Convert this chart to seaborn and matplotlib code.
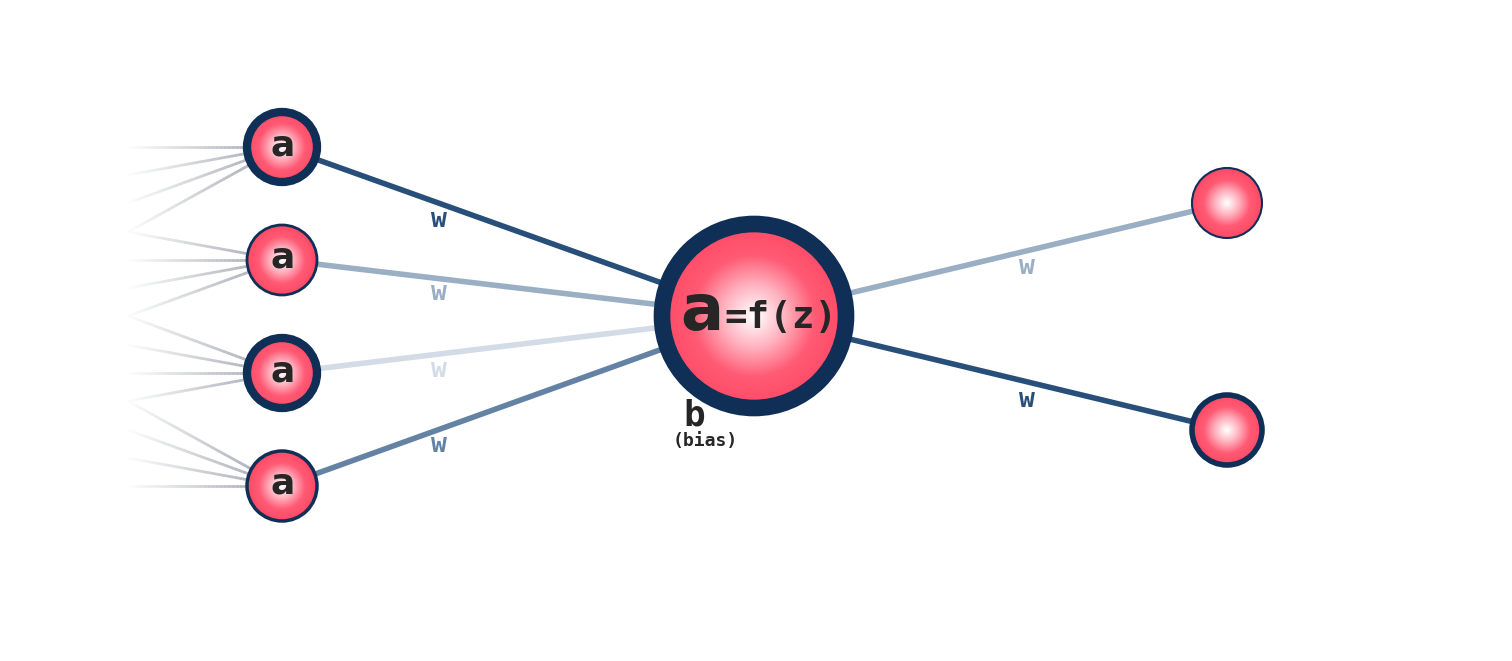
import numpy as np
import matplotlib
matplotlib.use('Agg')
import matplotlib.pyplot as plt
from matplotlib.patches import Circle
from matplotlib.collections import LineCollection
from matplotlib.colors import LinearSegmentedColormap, to_rgba
import seaborn as sns

sns.set_style('white')

# layout in pixel units
input_x = 282
input_y = [147, 260, 373, 486]
input_border = [6, 2, 6, 2.5]
in_weight_colors = ['#284f7a', '#9aaec4', '#d3dce6', '#6482a3']
in_w_label_y = [220, 293, 370, 445]

hidden = (754, 316)
hidden_r = 92

output_x = 1227
output_y = [203, 430]
output_border = [1.5, 4]
out_weight_colors = ['#9aaec4', '#284f7a']
out_w_label_y = [267, 400]

source_x = 128
source_y = [147, 175, 203, 232, 260, 288, 316, 345, 373, 401, 430, 458, 486]
fan_groups = [[0, 1, 2, 3], [3, 4, 5, 6], [6, 7, 8, 9], [9, 10, 11, 12]]

NAVY = '#0f2f57'
grad = LinearSegmentedColormap.from_list('node', ['#ffffff', '#ffb3c0', '#ff5a74', '#ff4a66'])

fig = plt.figure(figsize=(15.12, 6.61), dpi=100)
ax = fig.add_axes([0, 0, 1, 1])
ax.set_xlim(0, 1512)
ax.set_ylim(661, 0)
ax.set_aspect('equal')
ax.axis('off')


def node(cx, cy, r, bw, z=5):
    n = 200
    xs = np.linspace(-1, 1, n)
    X, Y = np.meshgrid(xs, xs)
    D = np.clip(np.sqrt(X ** 2 + Y ** 2), 0, 1)
    im = ax.imshow(D, cmap=grad, extent=(cx - r, cx + r, cy + r, cy - r),
                   origin='upper', zorder=z, interpolation='bilinear')
    clip = Circle((cx, cy), r, transform=ax.transData)
    im.set_clip_path(clip)
    ax.add_patch(Circle((cx, cy), r, fill=False, ec=NAVY, lw=bw, zorder=z + 1))


# faded fan-in lines
for gi, grp in enumerate(fan_groups):
    for si in grp:
        x = np.linspace(source_x, input_x, 40)
        y = np.linspace(source_y[si], input_y[gi], 40)
        pts = np.array([x, y]).T.reshape(-1, 1, 2)
        segs = np.concatenate([pts[:-1], pts[1:]], axis=1)
        alphas = np.linspace(0.02, 0.75, len(segs))
        cols = [to_rgba('#7a8290', a) for a in alphas]
        ax.add_collection(LineCollection(segs, colors=cols, lw=2, zorder=2))

# weights into hidden node
for y, c, ly in zip(input_y, in_weight_colors, in_w_label_y):
    ax.plot([input_x, hidden[0]], [y, hidden[1]], color=c, lw=4, zorder=3, solid_capstyle='butt')
    ax.text(439, ly, 'w', color=c, fontsize=19, fontweight='bold', family='DejaVu Sans Mono',
            ha='center', va='center', zorder=4)

# weights out
for y, c, ly in zip(output_y, out_weight_colors, out_w_label_y):
    ax.plot([hidden[0], output_x], [hidden[1], y], color=c, lw=4, zorder=3, solid_capstyle='butt')
    ax.text(1027, ly, 'w', color=c, fontsize=19, fontweight='bold', family='DejaVu Sans Mono',
            ha='center', va='center', zorder=4)

for y, bw in zip(input_y, input_border):
    node(input_x, y, 35, bw)
    ax.text(input_x + 1, y - 2, 'a', fontsize=26, fontweight='bold', ha='center', va='center', zorder=8)

node(hidden[0], hidden[1], hidden_r, 12)
ax.text(702, 312, 'a', fontsize=46, fontweight='bold', ha='center', va='center', zorder=8)
ax.text(781, 318, '=f(z)', fontsize=27, fontweight='bold', family='DejaVu Sans Mono',
        ha='center', va='center', zorder=8)
ax.text(694, 416, 'b', fontsize=26, fontweight='bold', family='DejaVu Sans Mono',
        ha='center', va='center', zorder=8)
ax.text(705, 441, '(bias)', fontsize=13, fontweight='bold', family='DejaVu Sans Mono',
        ha='center', va='center', zorder=8)

for y, bw in zip(output_y, output_border):
    node(output_x, y, 35, bw)

fig.savefig('out.png', dpi=100, facecolor='white')
